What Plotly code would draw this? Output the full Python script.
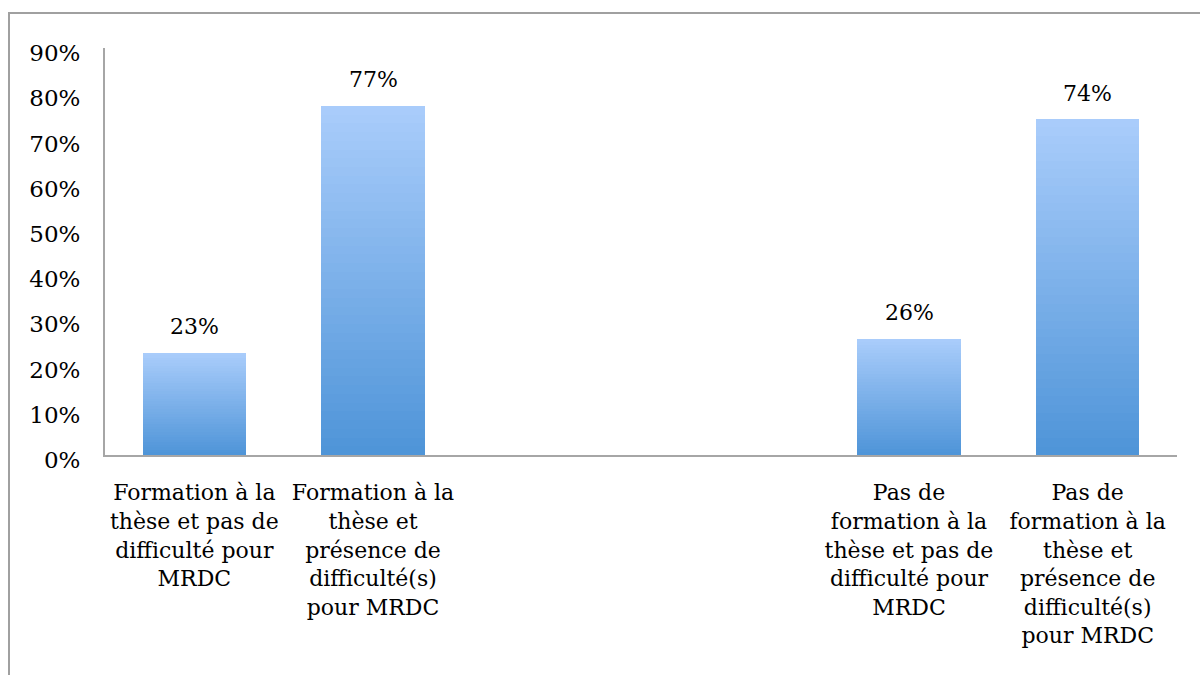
import plotly.graph_objects as go

# category slots 0..5 (2 and 3 are empty in the original chart)
positions = [0, 1, 4, 5]
labels = [
    "Formation à la<br>thèse et pas de<br>difficulté pour<br>MRDC",
    "Formation à la<br>thèse et<br>présence de<br>difficulté(s)<br>pour MRDC",
    "Pas de<br>formation à la<br>thèse et pas de<br>difficulté pour<br>MRDC",
    "Pas de<br>formation à la<br>thèse et<br>présence de<br>difficulté(s)<br>pour MRDC",
]
values = [0.226, 0.772, 0.257, 0.743]

FONT = "DejaVu Serif"
top_rgb = (170, 205, 251)
bottom_rgb = (78, 148, 216)
n_steps = 40

W, H = 1200, 675
L, R, T, B = 105, 23, 48, 220
pw, ph = W - L - R, H - T - B


def blend(t):
    r, g, b = (round(bottom_rgb[i] + (top_rgb[i] - bottom_rgb[i]) * t) for i in range(3))
    return f"rgb({r},{g},{b})"


fig = go.Figure()

# gradient fill: each bar is split into equal stacked slices
for k in range(n_steps):
    fig.add_trace(go.Bar(
        x=positions,
        y=[v / n_steps for v in values],
        width=0.577,
        marker=dict(color=blend((k + 0.5) / n_steps), line=dict(width=0)),
        showlegend=False,
        hoverinfo="skip",
    ))

annotations = [
    dict(x=p, y=v, xref="x", yref="y", text=f"{round(v * 100)}%",
         showarrow=False, yanchor="middle", yshift=26,
         font=dict(family=FONT, size=22, color="black"))
    for p, v in zip(positions, values)
]

# outer chart frame (cut off on the right and bottom in the original)
frame = dict(
    type="rect", xref="paper", yref="paper",
    x0=(9 - L) / pw, x1=(W + 15 - L) / pw,
    y0=(T + ph - H - 25) / ph, y1=(T + ph - 13) / ph,
    line=dict(color="#a0a0a0", width=2), fillcolor="rgba(0,0,0,0)",
    layer="below",
)

fig.update_layout(
    width=W, height=H,
    barmode="stack",
    plot_bgcolor="white",
    paper_bgcolor="white",
    margin=dict(l=L, r=R, t=T, b=B),
    annotations=annotations,
    shapes=[frame],
    font=dict(family=FONT, size=22, color="black"),
)

fig.update_xaxes(
    range=[-0.5, 5.5],
    tickmode="array", tickvals=positions, ticktext=labels,
    showline=True, linecolor="#a6a6a6", linewidth=2,
    showgrid=False, zeroline=False, ticks="",
    ticklabelstandoff=17,
    tickangle=0,
)
fig.update_yaxes(
    range=[0, 0.9],
    tickvals=[i / 10 for i in range(10)],
    tickformat=".0%",
    showline=True, linecolor="#a6a6a6", linewidth=2,
    showgrid=False, zeroline=False, ticks="",
    ticklabelstandoff=18,
    ticklabelshift=5,
    tickfont=dict(size=23),
)

fig.write_html("out.html", config={"displayModeBar": False},
               post_script="document.body.style.margin='0';")
